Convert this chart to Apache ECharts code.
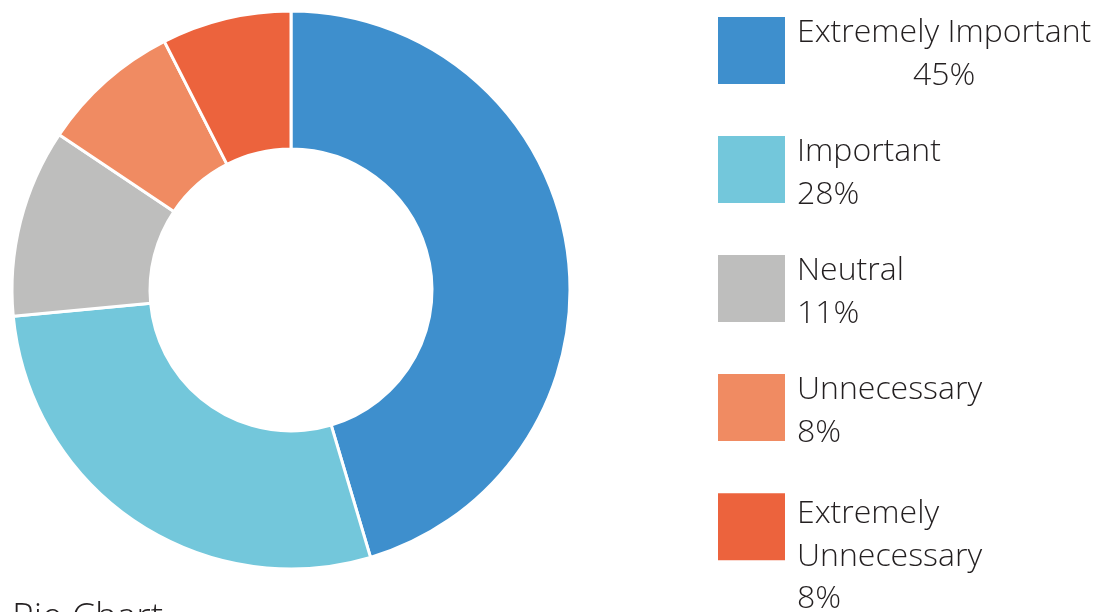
<!DOCTYPE html>
<html><head><meta charset="utf-8">
<script src="https://cdn.jsdelivr.net/npm/echarts@6/dist/echarts.min.js"></script>
<style>html,body{margin:0;padding:0;background:#fff}#c{width:1099px;height:612px}</style>
</head><body><div id="c"></div>
<script>
const categories = ['Extremely Important', 'Important', 'Neutral', 'Unnecessary', 'Extremely Unnecessary'];
const values = [45.4, 28.1, 10.9, 8.1, 7.5];
const percentLabels = ['45%', '28%', '11%', '8%', '8%'];
const colors = ['#3E8FCD', '#73C7DB', '#BEBEBD', '#F08B62', '#EC633D'];
const legendLines = [['Extremely Important'], ['Important'], ['Neutral'], ['Unnecessary'], ['Extremely', 'Unnecessary']];

const FONT = 'Open Sans';
const W = 300;
const FS = 32;
const LH = 42.5;
const TXT = '#231f20';
const chart = echarts.init(document.getElementById('c'));

const legendTops = [4, 123, 242, 361, 433];
const legends = categories.map((name, i) => {
  const multi = legendLines[i].length > 1;
  return {
    orient: 'vertical', left: 716, top: legendTops[i], padding: 0,
    itemWidth: 69, itemHeight: 69,
    icon: 'rect', selectedMode: false,
    data: [name],
    formatter: function (n) {
      const k = categories.indexOf(n);
      const lines = legendLines[k].map(l => '{t|' + l + '}');
      const pct = '{' + (k === 0 ? 'c' : 't') + '|' + percentLabels[k] + '}';
      return lines.concat([pct]).join('\n');
    },
    textStyle: {
      fontFamily: FONT, fontSize: FS, fontWeight: W, color: TXT, lineHeight: LH,
      padding: multi ? [60, 0, 0, 6] : [8, 0, 0, 6],
      rich: {
        t: { fontFamily: FONT, fontSize: FS, fontWeight: W, color: TXT, lineHeight: LH },
        c: { fontFamily: FONT, fontSize: FS, fontWeight: W, color: TXT, lineHeight: LH, align: 'center' }
      }
    }
  };
});

chart.setOption({
  animation: false,
  title: {
    text: 'Pie Chart', left: 7, top: 595,
    textStyle: { fontFamily: FONT, fontSize: 37, fontWeight: W, color: TXT }
  },
  legend: legends,
  series: [{
    type: 'pie',
    center: [291, 290],
    radius: [141, 279],
    startAngle: 90,
    clockwise: true,
    label: { show: false },
    labelLine: { show: false },
    itemStyle: { borderColor: '#fff', borderWidth: 3 },
    data: categories.map((n, i) => ({ name: n, value: values[i], itemStyle: { color: colors[i] } }))
  }]
});
</script></body></html>
